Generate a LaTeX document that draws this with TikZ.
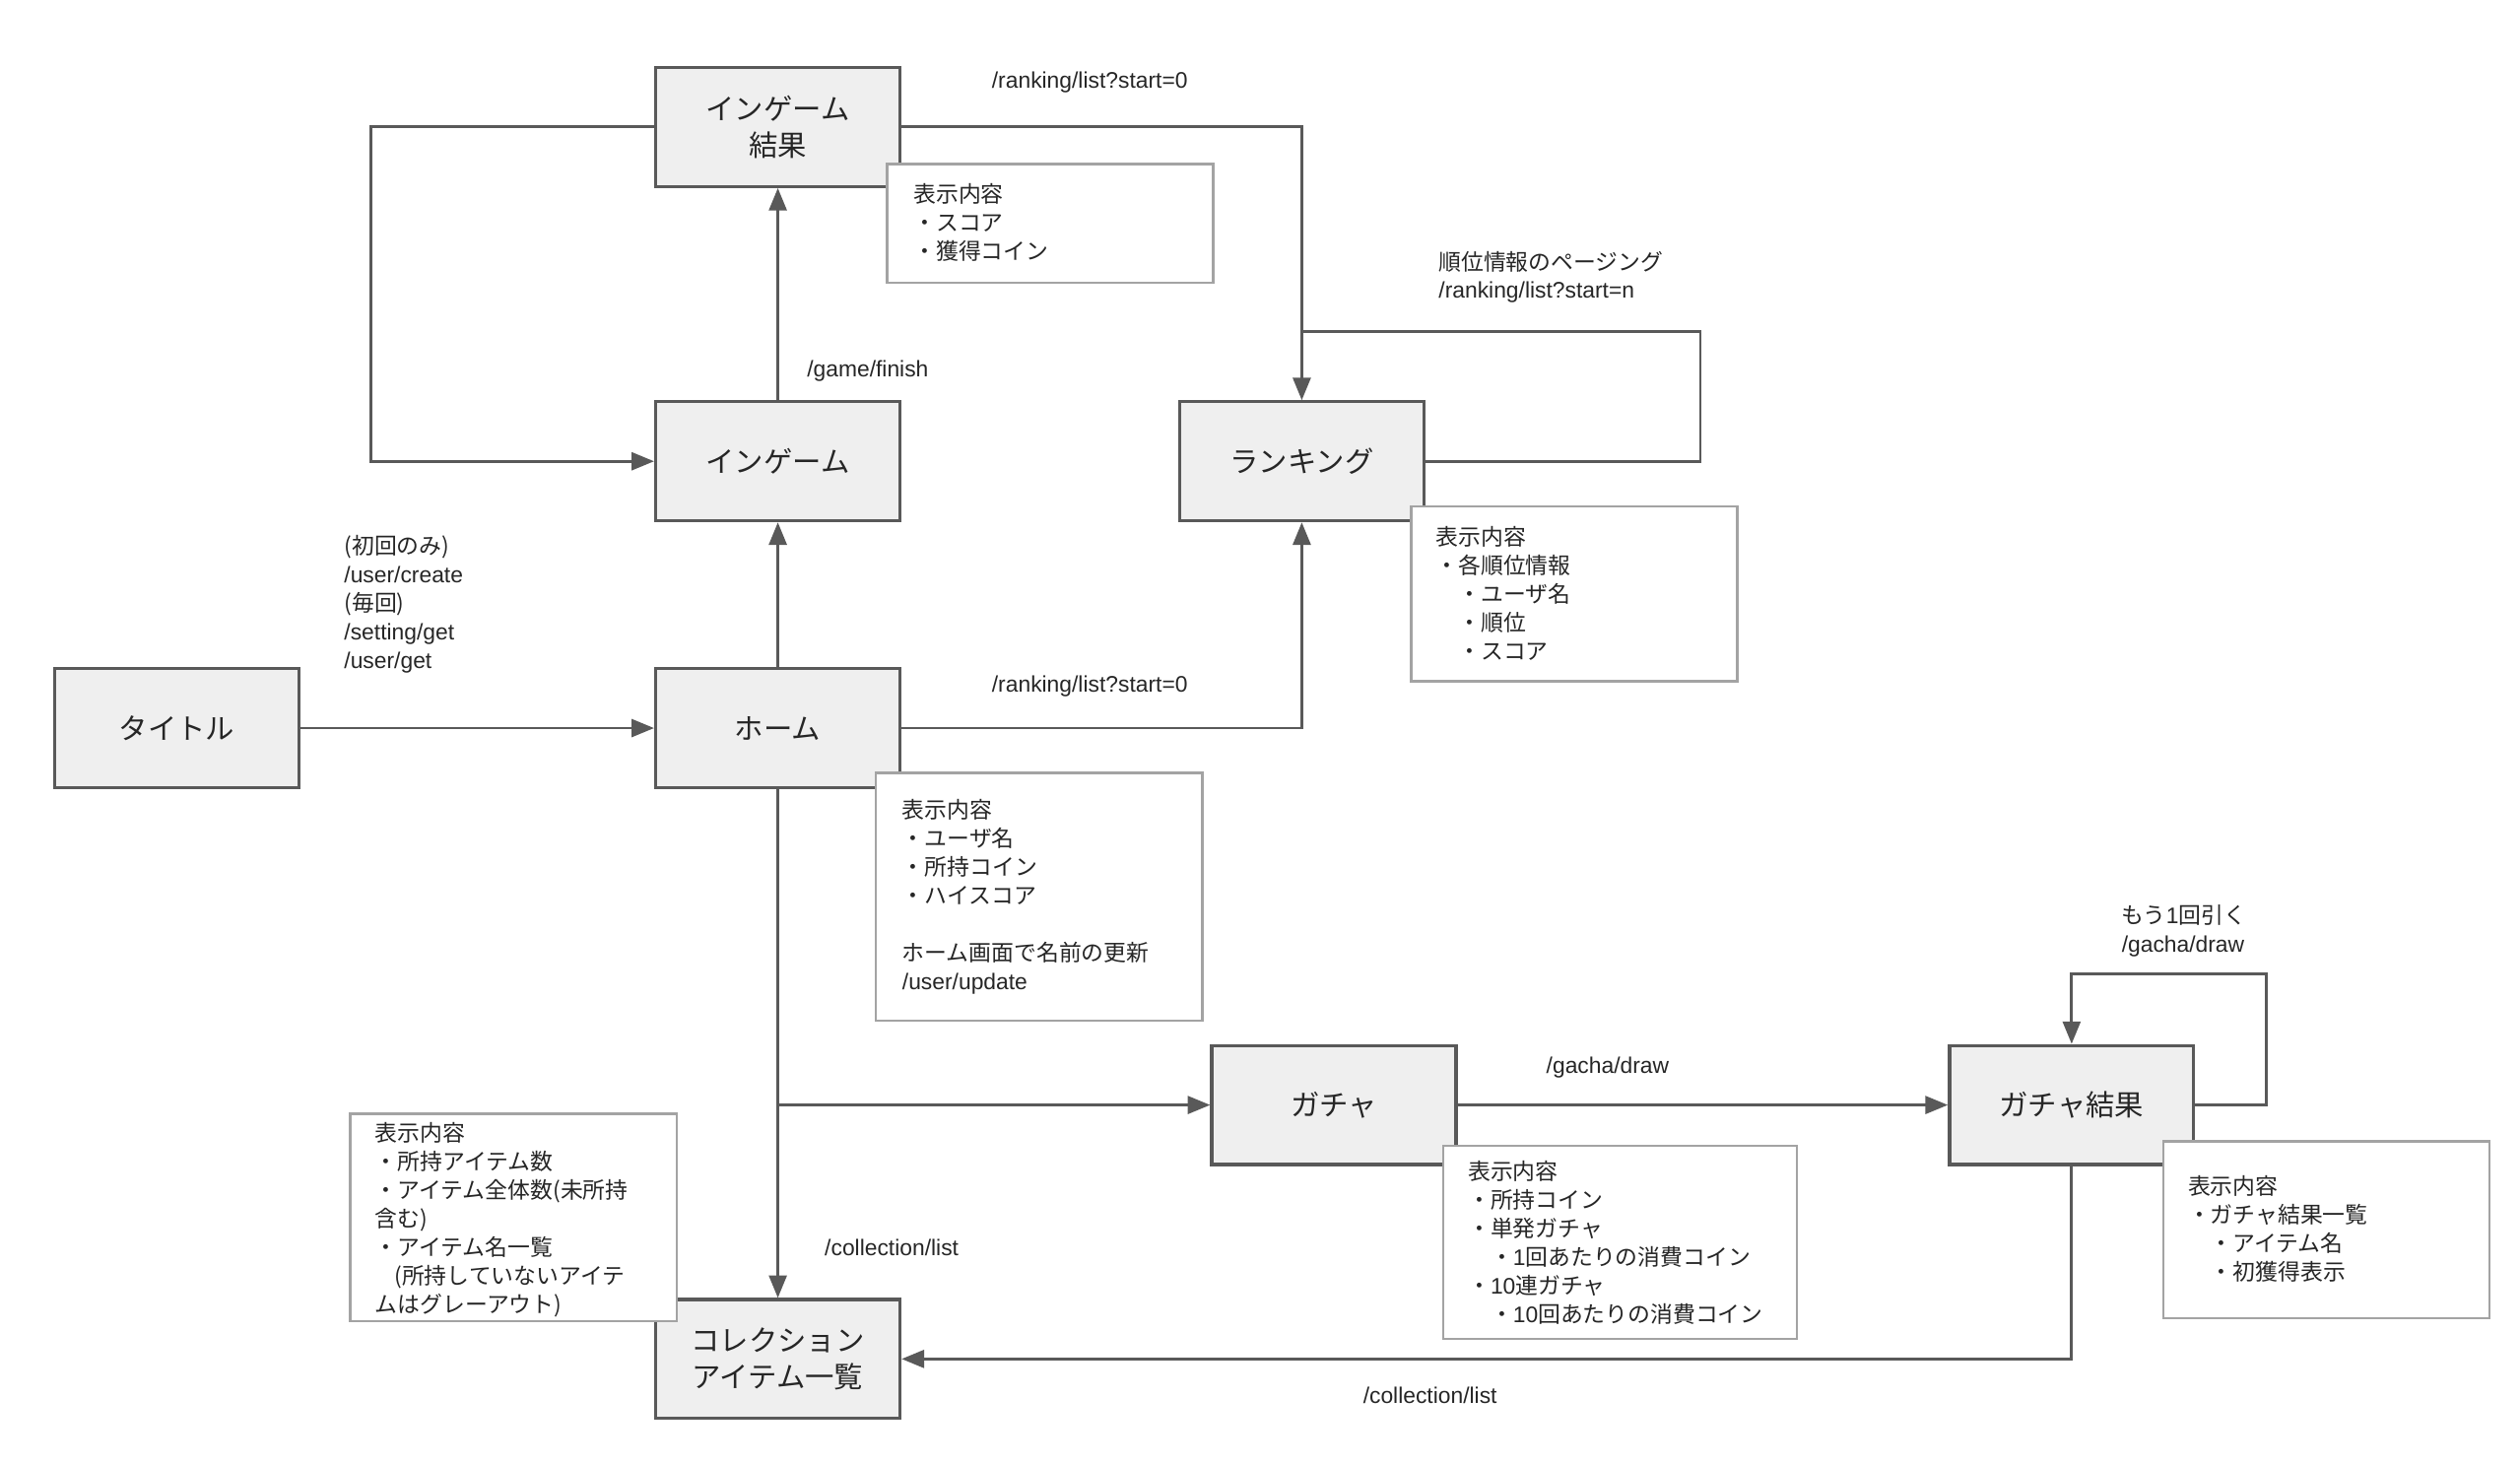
\documentclass[tikz,border=0pt]{standalone}
\usepackage{fontspec}
\setmainfont{Liberation Sans}
\newfontfamily\jp{Noto Sans CJK JP}
\usetikzlibrary{arrows.meta,calc}
\definecolor{boxfill}{HTML}{EFEFEF}
\definecolor{boxline}{HTML}{595959}
\definecolor{infoline}{HTML}{A3A3A3}
\definecolor{txt}{HTML}{262626}
\tikzset{
  screen/.style={draw=boxline, line width=2pt, fill=boxfill, minimum width=152pt, minimum height=74pt,
    inner sep=0pt, align=center, text=txt, font=\jp\fontsize{18}{23}\selectfont},
  infobox/.style={draw=infoline, line width=1.5pt, fill=white, inner sep=0pt},
  infotext/.style={anchor=north west, inner sep=0pt, align=left, text=txt, font=\jp\fontsize{14}{17.75}\selectfont},
  lbl/.style={inner sep=0pt, align=left, text=txt, font=\fontsize{14}{17.75}\selectfont},
  conn/.style={draw=boxline, line width=1.8pt, -{Triangle[length=14pt,width=11pt]}},
  plain/.style={draw=boxline, line width=1.8pt},
}
\begin{document}
\begin{tikzpicture}[x=1pt,y=-1pt]
\useasboundingbox (0,0) rectangle (1568,911);
% screens
\node[screen] (res) at (484,79) {インゲーム\\結果};
\node[screen] (ing) at (484,287) {インゲーム};
\node[screen] (rank) at (810,287) {ランキング};
\node[screen] (title) at (110,453) {タイトル};
\node[screen] (home) at (484,453) {ホーム};
\node[screen] (gacha) at (830,687.5) {ガチャ};
\node[screen] (gres) at (1289,687.5) {ガチャ結果};
\node[screen] (coll) at (484,845.5) {コレクション\\アイテム一覧};
% helper coordinates
\coordinate (c1) at (231,79);
\coordinate (rl) at (1058,206);
\coordinate (gl) at (1410,606);
% connectors
\draw[conn] (title.east) -- (home.west);
\draw[conn] (home.north) -- (ing.south);
\draw[conn] (ing.north) -- (res.south);
\draw[conn] (res.west) -- (c1) |- (ing.west);
\draw[conn] (res.east) -| (rank.north);
\draw[plain] (rank.east) -| (rl) -- (rank.north |- rl);
\draw[conn] (home.east) -| (rank.south);
\draw[conn] (home.south) -- (coll.north);
\draw[conn] (home.south |- gacha.west) -- (gacha.west);
\draw[conn] (gacha.east) -- (gres.west);
\draw[conn] (gres.east) -| (gl) -| (gres.north);
\draw[conn] (gres.south) |- (coll.east);
% connector labels
\node[lbl, anchor=west] (l1) at (617,51) {/ranking/list?start=0};
\node[lbl, anchor=north west] (l2) at (895,156) {{\jp 順位情報のページング}\\/ranking/list?start=n};
\node[lbl, anchor=west] (l3) at (502,231) {/game/finish};
\node[lbl, anchor=north west] (l4) at (214,333) {{\jp (初回のみ)}\\/user/create\\{\jp (毎回)}\\/setting/get\\/user/get};
\node[lbl, anchor=west] (l5) at (617,427) {/ranking/list?start=0};
\node[lbl, anchor=north west] (l6) at (1320,563) {{\jp もう}1{\jp 回引く}\\/gacha/draw};
\node[lbl, anchor=west] (l7) at (962,664) {/gacha/draw};
\node[lbl, anchor=west] (l8) at (513,776) {/collection/list};
\node[lbl, anchor=west] (l9) at (848,868) {/collection/list};
% info boxes
\node[infobox, minimum width=203pt, minimum height=74pt] (ri) at (653.5,139) {};
\node[infotext] (rit) at ($(ri.north west)+(17,13)$) {表示内容\\・スコア\\・獲得コイン};
\node[infobox, minimum width=203pt, minimum height=109pt] (ki) at (979.5,369.5) {};
\node[infotext] (kit) at ($(ki.north west)+(16,13)$) {表示内容\\・各順位情報\\\hspace*{14pt}・ユーザ名\\\hspace*{14pt}・順位\\\hspace*{14pt}・スコア};
\node[infobox, minimum width=203pt, minimum height=154pt] (hi) at (646.5,558) {};
\node[infotext] (hit) at ($(hi.north west)+(17,17)$) {表示内容\\・ユーザ名\\・所持コイン\\・ハイスコア\\[17.75pt]ホーム画面で名前の更新\\{\rmfamily /user/update}};
\node[infobox, minimum width=203pt, minimum height=129pt] (ci) at (319.5,757.5) {};
\node[infotext] (cit) at ($(ci.north west)+(16,6)$) {表示内容\\・所持アイテム数\\・アイテム全体数(未所持\\含む)\\・アイテム名一覧\\\hspace*{12pt}(所持していないアイテ\\ムはグレーアウト)};
\node[infobox, minimum width=220pt, minimum height=120pt] (gi) at (1008,773) {};
\node[infotext] (git) at ($(gi.north west)+(16,10)$) {表示内容\\・所持コイン\\・単発ガチャ\\\hspace*{14pt}・{\rmfamily 1}回あたりの消費コイン\\・{\rmfamily 10}連ガチャ\\\hspace*{14pt}・{\rmfamily 10}回あたりの消費コイン};
\node[infobox, minimum width=203pt, minimum height=110pt] (gri) at (1447.5,765) {};
\node[infotext] (grit) at ($(gri.north west)+(16,22)$) {表示内容\\・ガチャ結果一覧\\\hspace*{14pt}・アイテム名\\\hspace*{14pt}・初獲得表示};
\end{tikzpicture}
\end{document}
